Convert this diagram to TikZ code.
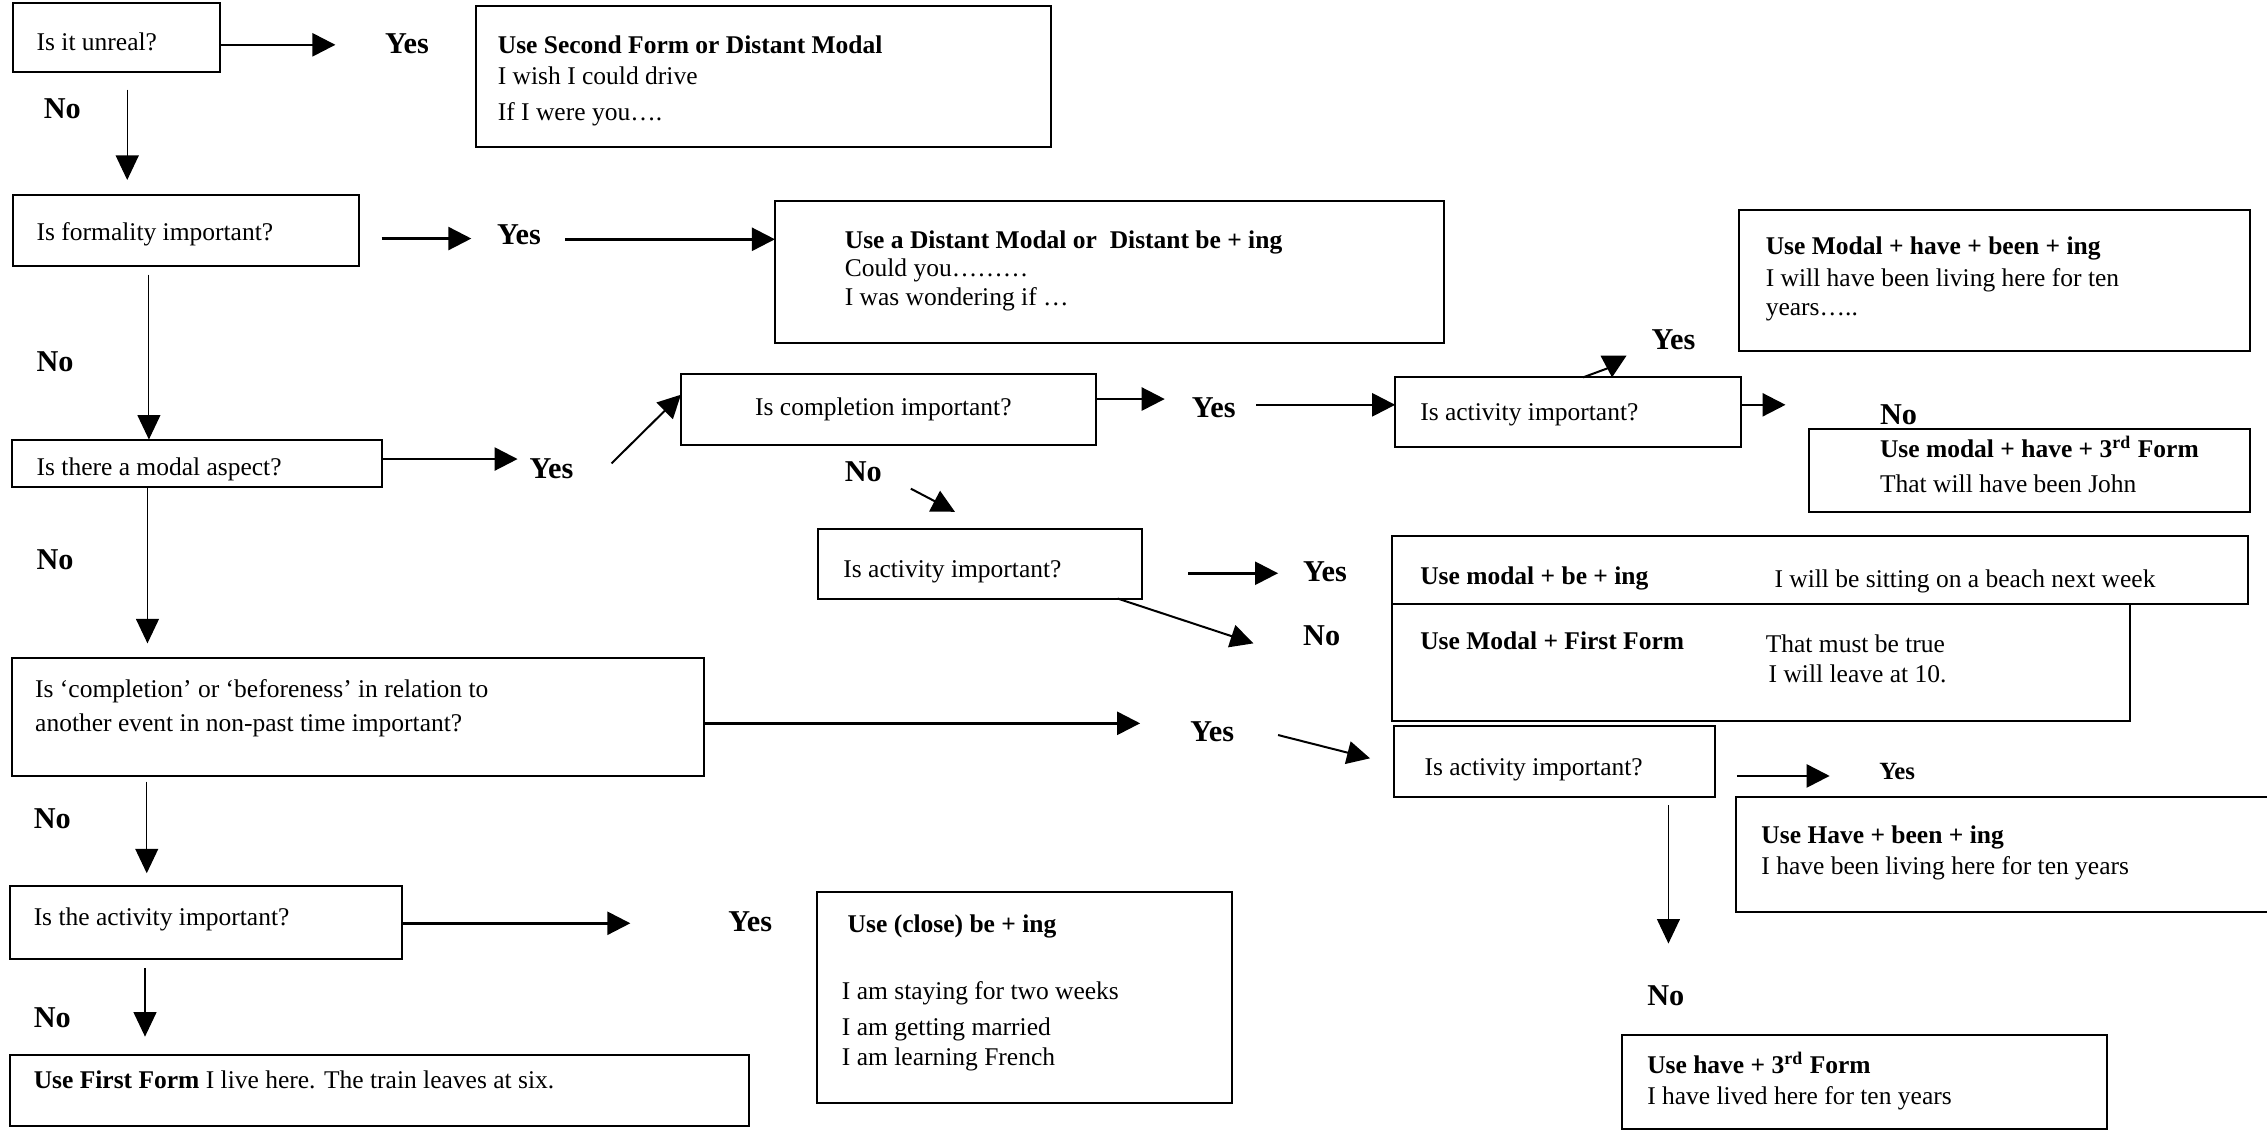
\documentclass[tikz,border=0pt]{standalone}
\usepackage{fontspec}
\setmainfont{Liberation Serif}
\usetikzlibrary{arrows.meta,fit}
\newcommand\bodysize{\fontsize{10.2pt}{12pt}\selectfont}
\newcommand\labelsize{\fontsize{12.1pt}{14pt}\selectfont\bfseries}
\begin{document}
\begin{tikzpicture}[x=0.5783pt,y=-0.5783pt,
  box/.style={draw, line width=0.8pt, inner sep=0pt, outer sep=0pt},
  txt/.style={anchor=mid west, inner sep=0pt, yshift=-0.7pt, font=\bodysize},
  head/.style={anchor=mid west, inner sep=0pt, yshift=-0.7pt, font=\bodysize\bfseries},
  lbl/.style={anchor=west, inner sep=0pt, font=\labelsize},
  lblsm/.style={anchor=west, inner sep=0pt, font=\fontsize{9.9pt}{12pt}\selectfont\bfseries},
  arr/.style={line width=1pt, -{Triangle[length=9.2pt,width=9.2pt]}},
  darr/.style={line width=0.8pt, -{Triangle[length=9.2pt,width=9.2pt]}},
  varr/.style={line width=0.45pt, -{Triangle[length=9.8pt,width=9.2pt]}},
]
\clip (0,0) rectangle (1568,783);
\fill[white] (0,0) rectangle (1568,783);

% ---------- boxes ----------
\node[box, fit={(9,2) (152,50)}]      (unreal)  {};
\node[box, fit={(329,4) (727,102)}]   (second)  {};
\node[box, fit={(9,135) (248,184)}]   (formal)  {};
\node[box, fit={(536,139) (999,237)}] (distant) {};
\node[box, fit={(8,304) (264,337)}]   (modal)   {};
\node[box, fit={(471,259) (758,308)}] (compl)   {};
\node[box, fit={(965,261) (1204,309)}] (actA)   {};
\node[box, fit={(1203,145) (1556,243)}] (mhbi)  {};
\node[box, fit={(1251,297) (1556,354)}] (mhthree) {};
\node[box, fit={(566,366) (790,414)}] (actM)    {};
\node[box, fit={(963,371) (1555,418)}] (mbi)    {};
\node[box, fit={(963,418) (1473,499)}] (mff)    {};
\node[box, fit={(8,455) (487,537)}]   (before)  {};
\node[box, fit={(964,502) (1186,551)}] (actL)   {};
\node[box, fit={(1201,551) (1575,631)}] (hbi)   {};
\node[box, fit={(1122,716) (1457,781)}] (hthree) {};
\node[box, fit={(7,613) (278,663)}]   (theact)  {};
\node[box, fit={(565,617) (852,763)}] (close)   {};
\node[box, fit={(7,730) (518,779)}]   (first)   {};

% ---------- box texts ----------
\node[txt]  (t-unreal) at (25,30)   {Is it unreal?};
\node[head] (t-sec1)   at (344,32)  {Use Second Form or Distant Modal};
\node[txt]  (t-sec2)   at (344,53)  {I wish I could drive};
\node[txt]  (t-sec3)   at (344,78)  {If I were you….};
\node[txt]  (t-formal) at (25,161)  {Is formality important?};
\node[head] (t-dis1)   at (584,167) {Use a Distant Modal or~~Distant be + ing};
\node[txt]  (t-dis2)   at (584,186) {Could you………};
\node[txt]  (t-dis3)   at (584,206) {I was wondering if …};
\node[txt]  (t-modal)  at (25,324)  {Is there a modal aspect?};
\node[txt]  (t-compl)  at (522,282) {Is completion important?};
\node[txt]  (t-actA)   at (982,286) {Is activity important?};
\node[head] (t-mhbi1)  at (1221,171) {Use Modal + have + been + ing};
\node[txt]  (t-mhbi2)  at (1221,193) {I will have been living here for ten};
\node[txt]  (t-mhbi3)  at (1221,213) {years…..};
\node[head] (t-mh1)    at (1300,311) {Use modal + have + 3\textsuperscript{rd} Form};
\node[txt]  (t-mh2)    at (1300,335.5) {That will have been John};
\node[txt]  (t-actM)   at (583,394) {Is activity important?};
\node[head] (t-mbi1)   at (982,399) {Use modal + be + ing};
\node[txt]  (t-mbi2)   at (1227,401) {I will be sitting on a beach next week};
\node[head] (t-mff1)   at (982,444) {Use Modal + First Form};
\node[txt]  (t-mff2)   at (1221,446) {That must be true};
\node[txt]  (t-mff3)   at (1223,467) {I will leave at 10.};
\node[txt]  (t-bef1)   at (24,477)  {Is ‘completion’ or ‘beforeness’ in relation to};
\node[txt]  (t-bef2)   at (24,501)  {another event in non-past time important?};
\node[txt]  (t-actL)   at (985,531.5) {Is activity important?};
\node[head] (t-hbi1)   at (1218,578) {Use Have + been + ing};
\node[txt]  (t-hbi2)   at (1218,600) {I have been living here for ten years};
\node[head] (t-h1)     at (1139,737.6) {Use have + 3\textsuperscript{rd} Form};
\node[txt]  (t-h2)     at (1139,758.7) {I have lived here for ten years};
\node[txt]  (t-theact) at (23,635)  {Is the activity important?};
\node[head] (t-clo1)   at (586,640) {Use (close) be + ing};
\node[txt]  (t-clo2)   at (582,686) {I am staying for two weeks};
\node[txt]  (t-clo3)   at (582,711) {I am getting married};
\node[txt]  (t-clo4)   at (582,732) {I am learning French};
\node[txt]  (t-first)  at (23,748)  {\textbf{Use First Form} I live here. The train leaves at six.};

% ---------- yes / no labels ----------
\node[lbl]   (yes1) at (266,30)    {Yes};
\node[lbl]   (no1)  at (30,75)     {No};
\node[lbl]   (yes2) at (343.5,162.5) {Yes};
\node[lbl]   (no2)  at (25,250)    {No};
\node[lbl]   (yes3) at (366,324)   {Yes};
\node[lbl]   (yes4) at (824,282)   {Yes};
\node[lbl]   (no3)  at (584,326)   {No};
\node[lbl]   (yesA) at (1142,235)  {Yes};
\node[lbl]   (noA)  at (1300,287)  {No};
\node[lbl]   (yes5) at (901,395.5) {Yes};
\node[lbl]   (no4)  at (901,440)   {No};
\node[lbl]   (no5)  at (25,387)    {No};
\node[lbl]   (yes6) at (823,506)   {Yes};
\node[lblsm] (yesL) at (1299.5,533.7) {Yes};
\node[lbl]   (noL)  at (1139,689)  {No};
\node[lbl]   (no6)  at (23,566)    {No};
\node[lbl]   (yes7) at (503.5,637.5) {Yes};
\node[lbl]   (no7)  at (23,704)    {No};

% ---------- connector end points ----------
\coordinate (c1)   at (232,31);
\coordinate (c2a)  at (88,62);
\coordinate (c2b)  at (88,124.5);
\coordinate (c3a)  at (264,165);
\coordinate (c3b)  at (326,165);
\coordinate (c4)   at (391,165.5);
\coordinate (c5)   at (103,190);
\coordinate (c6)   at (358,317.5);
\coordinate (c7a)  at (423,320.5);
\coordinate (c7b)  at (471,273);
\coordinate (c8)   at (805.6,276);
\coordinate (c9)   at (869,280);
\coordinate (c10a) at (1095,261);
\coordinate (c10b) at (1115,253.6);
\coordinate (c11)  at (1235,280);
\coordinate (c12a) at (630,338);
\coordinate (c12b) at (660.5,354);
\coordinate (c13a) at (822,396.5);
\coordinate (c13b) at (884,396.5);
\coordinate (c14a) at (773,413);
\coordinate (c14b) at (867,445);
\coordinate (c15)  at (102,445);
\coordinate (c16)  at (788.6,500.3);
\coordinate (c17a) at (884,508.4);
\coordinate (c17b) at (947.6,524.5);
\coordinate (c18a) at (1201.4,536.7);
\coordinate (c18b) at (1265.5,536.7);
\coordinate (c19a) at (1154,557);
\coordinate (c19b) at (1154,652.6);
\coordinate (c20a) at (101.5,540.6);
\coordinate (c20b) at (101.5,604);
\coordinate (c21)  at (436,638.6);
\coordinate (c22a) at (100.3,669.8);
\coordinate (c22b) at (100.3,717);

% ---------- connectors ----------
\draw[arr]  (unreal.east |- c1) -- (c1);
\draw[varr] (c2a) -- (c2b);
\draw[arr]  (c3a) -- (c3b);
\draw[arr]  (c4) -- (c4 -| distant.west);
\draw[varr] (c5) -- (c5 |- modal.north);
\draw[arr]  (c6 -| modal.east) -- (c6);
\draw[darr] (c7a) -- (c7b);
\draw[arr]  (c8 -| compl.east) -- (c8);
\draw[arr]  (c9) -- (c9 -| actA.west);
\draw[line width=0.8pt] (c10a |- actA.north) -- (c10b);
\fill (1107,246) -- (1125,246) -- (c10a -| c10b) -- cycle;
\draw[arr]  (c11 -| actA.east) -- (c11);
\draw[darr] (c12a) -- (c12b);
\draw[arr]  (c13a) -- (c13b);
\draw[darr] (c14a |- actM.south) -- (c14b);
\draw[varr] (c15 |- modal.south) -- (c15);
\draw[arr]  (c16 -| before.east) -- (c16);
\draw[darr] (c17a) -- (c17b);
\draw[arr]  (c18a) -- (c18b);
\draw[varr] (c19a) -- (c19b);
\draw[varr] (c20a) -- (c20b);
\draw[arr]  (c21 -| theact.east) -- (c21);
\draw[varr] (c22a) -- (c22b);
\end{tikzpicture}
\end{document}
